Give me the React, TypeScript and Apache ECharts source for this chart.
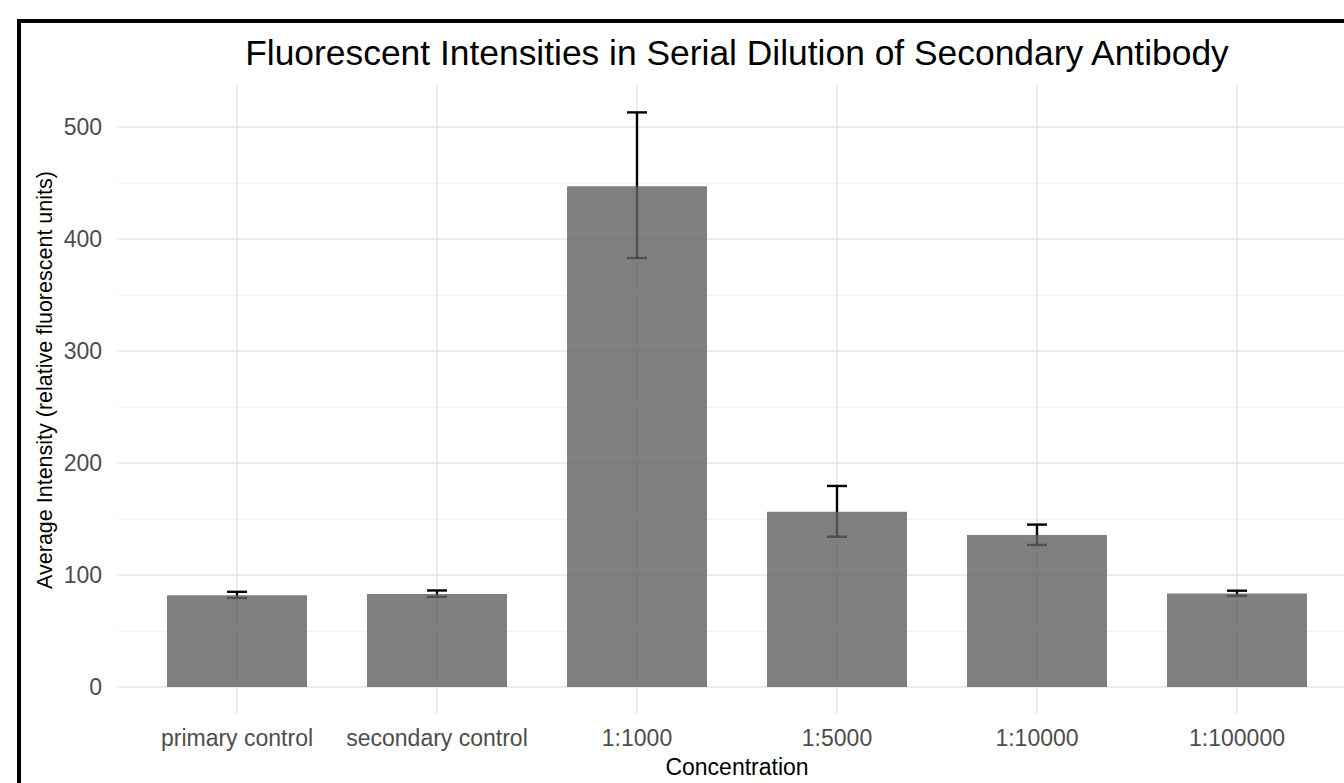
import React, { useEffect, useRef } from "react";
import * as echarts from "echarts";

const categories = ["primary control", "secondary control", "1:1000", "1:5000", "1:10000", "1:100000"];
const means = [82, 83, 447, 156.5, 135.7, 83.6];
const errLow = [79.5, 80.5, 383, 134.2, 126.8, 81.3];
const errHigh = [85, 86.2, 513, 179.5, 145, 86];
const majorTicks = [0, 100, 200, 300, 400, 500];
const minorTicks = [50, 150, 250, 350, 450];
const catPositions = categories.map((c, i) => i);

const FONT = "'Liberation Sans', Arial, Helvetica, sans-serif";

export default function App() {
  const ref = useRef<HTMLDivElement>(null);
  useEffect(() => {
    document.body.style.margin = "0";
    const chart = echarts.init(ref.current!, null, { renderer: "svg" });
    const barData = categories.map((c, i) => [i, means[i]]);
    const errData = categories.map((c, i) => [i, errLow[i], errHigh[i]]);
    const gridLines: any[] = [];
    minorTicks.forEach((v) => gridLines.push({ yAxis: v, lineStyle: { color: "#F2F2F2", width: 1.2, type: "solid" } }));
    majorTicks.forEach((v) => gridLines.push({ yAxis: v, lineStyle: { color: "#EBEBEB", width: 2, type: "solid" } }));
    catPositions.forEach((p) => gridLines.push({ xAxis: p, lineStyle: { color: "#EBEBEB", width: 2, type: "solid" } }));

    chart.setOption({
      animation: false,
      backgroundColor: "#FFFFFF",
      textStyle: { fontFamily: FONT },
      title: {
        text: "Fluorescent Intensities in Serial Dilution of Secondary Antibody",
        left: 732,
        top: 30,
        textAlign: "center",
        textStyle: { fontFamily: FONT, fontSize: 35.4, fontWeight: "normal", color: "#000000" },
      },
      graphic: [
        {
          type: "rect",
          shape: { x: 19, y: 21, width: 1500, height: 900 },
          style: { fill: "none", stroke: "#000000", lineWidth: 4 },
          silent: true,
          z: 100,
        },
        {
          type: "text",
          x: 45,
          y: 380,
          rotation: Math.PI / 2,
          silent: true,
          style: {
            text: "Average Intensity (relative fluorescent units)",
            font: "21.5px " + FONT,
            fill: "#000000",
            align: "center",
            verticalAlign: "middle",
          },
        },
        {
          type: "text",
          x: 737,
          y: 767,
          silent: true,
          style: {
            text: "Concentration",
            font: "23px " + FONT,
            fill: "#000000",
            align: "center",
            verticalAlign: "middle",
          },
        },
      ],
      grid: { left: 117, top: 84.4, width: 1227, height: 629.5, containLabel: false },
      xAxis: {
        type: "value",
        min: -0.6,
        max: 5.535,
        axisLine: { show: false },
        axisTick: { show: true, length: 7, customValues: catPositions, lineStyle: { color: "#333333", width: 2 } },
        axisLabel: {
          fontFamily: FONT,
          fontSize: 23,
          color: "#4D4D4D",
          margin: 13,
          customValues: catPositions,
          formatter: (v: number) => categories[Math.round(v)] ?? "",
        },
        splitLine: { show: false },
      },
      yAxis: {
        type: "value",
        min: -24,
        max: 538,
        axisLine: { show: false },
        axisTick: { show: true, length: 7, customValues: majorTicks, lineStyle: { color: "#333333", width: 2 } },
        axisLabel: { fontFamily: FONT, fontSize: 23, color: "#4D4D4D", margin: 15, customValues: majorTicks },
        splitLine: { show: false },
      },
      series: [
        {
          type: "line",
          data: barData,
          showSymbol: false,
          symbol: "none",
          lineStyle: { opacity: 0 },
          silent: true,
          z: 1,
          markLine: {
            silent: true,
            z: 1,
            symbol: ["none", "none"],
            label: { show: false },
            data: gridLines,
          },
        },
        {
          type: "custom",
          z: 2,
          data: errData,
          renderItem: (params: any, api: any) => {
            const idx = api.value(0);
            const lo = api.coord([idx, api.value(1)]);
            const hi = api.coord([idx, api.value(2)]);
            const hw = 10;
            const style = { stroke: "#000000", lineWidth: 2.4 };
            return {
              type: "group",
              children: [
                { type: "line", shape: { x1: lo[0], y1: lo[1], x2: hi[0], y2: hi[1] }, style },
                { type: "line", shape: { x1: hi[0] - hw, y1: hi[1], x2: hi[0] + hw, y2: hi[1] }, style },
                { type: "line", shape: { x1: lo[0] - hw, y1: lo[1], x2: lo[0] + hw, y2: lo[1] }, style },
              ],
            };
          },
          clip: false,
        },
        {
          type: "custom",
          z: 3,
          data: barData,
          renderItem: (params: any, api: any) => {
            const idx = api.value(0);
            const tl = api.coord([idx - 0.35, api.value(1)]);
            const br = api.coord([idx + 0.35, 0]);
            return {
              type: "rect",
              shape: { x: tl[0], y: tl[1], width: br[0] - tl[0], height: br[1] - tl[1] },
              style: { fill: "rgba(99,99,99,0.81)" },
            };
          },
        },
      ],
    });
    return () => chart.dispose();
  }, []);
  return <div ref={ref} style={{ width: 1344, height: 783 }} />;
}
